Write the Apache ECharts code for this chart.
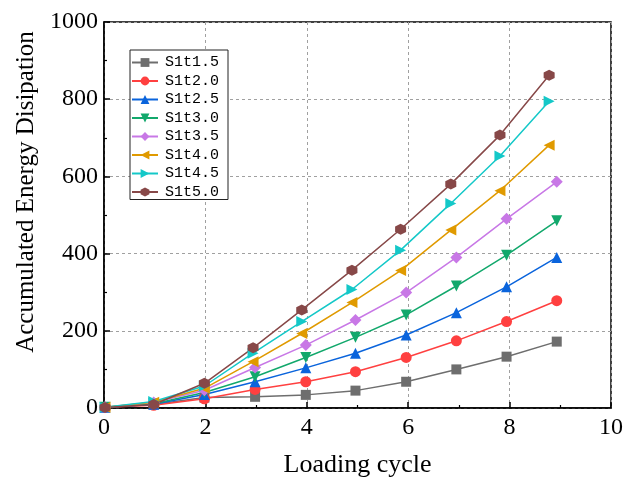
<!DOCTYPE html>
<html>
  <head>
      <meta charset="utf-8">
      <script src="https://cdn.jsdelivr.net/npm/echarts@6/dist/echarts.min.js"></script>
  </head>
  <body style="margin:0">
    <div id="main" style="width: 626px;height:484px;"></div>
    <script type="text/javascript">
        // x positions (loading cycle)
        var cycleLow = [0.02, 0.98, 1.98, 2.98, 3.98, 4.96, 5.96, 6.95, 7.94, 8.93];
        var cycleHigh = [0.02, 0.98, 1.98, 2.94, 3.90, 4.89, 5.85, 6.84, 7.81, 8.78];

        var names = ['S1t1.5', 'S1t2.0', 'S1t2.5', 'S1t3.0', 'S1t3.5', 'S1t4.0', 'S1t4.5', 'S1t5.0'];
        var s1t15 = [2, 9, 27, 29, 34, 45, 68, 100, 133, 172];
        var s1t20 = [2, 7, 24, 48, 68, 94, 131, 174, 224, 278];
        var s1t25 = [2, 10, 35, 68, 104, 142, 189, 247, 314, 390];
        var s1t30 = [2, 11, 40, 81, 131, 183, 241, 316, 396, 485];
        var s1t35 = [2, 14, 46, 105, 163, 228, 299, 390, 490, 586];
        var s1t40 = [2, 15, 51, 120, 193, 273, 356, 461, 563, 681];
        var s1t45 = [2, 17, 57, 142, 224, 307, 409, 530, 653, 795];
        var s1t50 = [1, 9, 64, 156, 254, 357, 463, 580, 707, 862];

        var values = [s1t15, s1t20, s1t25, s1t30, s1t35, s1t40, s1t45, s1t50];
        var xsets = [cycleLow, cycleLow, cycleLow, cycleLow, cycleLow, cycleHigh, cycleHigh, cycleHigh];

        var colors = ['#6e6e6e', '#ff4040', '#0a64dc', '#12a86c', '#c878e6', '#e09a00', '#14c8c8', '#874848'];
        var hexagon = 'path://M50,0 L93.3,25 L93.3,75 L50,100 L6.7,75 L6.7,25 Z';
        var symbols = ['rect', 'circle', 'triangle', 'triangle', 'diamond', 'triangle', 'triangle', hexagon];
        var rotates = [0, 0, 0, 180, 0, 90, -90, 0];
        var sizes = [10, 11, 11, 11, 12, 11, 11, 11];

        var serif = 'Liberation Serif';

        var myChart = echarts.init(document.getElementById('main'));

        var series = names.map(function (n, i) {
            return {
                name: n,
                type: 'line',
                data: values[i].map(function (v, j) { return [xsets[i][j], v]; }),
                symbol: symbols[i],
                symbolSize: sizes[i],
                symbolRotate: rotates[i],
                showAllSymbol: true,
                lineStyle: {color: colors[i], width: 1.5},
                itemStyle: {color: colors[i]},
                animation: false
            };
        });

        var option = {
            backgroundColor: '#fff',
            grid: {
                left: 104,
                right: 15,
                top: 22,
                bottom: 76,
                show: true,
                borderColor: '#000',
                borderWidth: 1.5
            },
            legend: {
                orient: 'vertical',
                left: 130,
                top: 50,
                itemWidth: 26,
                itemHeight: 11,
                itemGap: 3.5,
                padding: [5, 9, 0, 1],
                borderColor: '#222',
                borderWidth: 1,
                backgroundColor: '#fff',
                textStyle: {
                    fontFamily: 'Liberation Mono',
                    fontSize: 15,
                    color: '#000',
                    padding: [0, 0, 0, 2],
                    lineHeight: 12
                },
                data: names
            },
            xAxis: {
                type: 'value',
                min: 0,
                max: 10,
                interval: 2,
                name: 'Loading cycle',
                nameLocation: 'middle',
                nameGap: 44,
                nameTextStyle: {fontFamily: serif, fontSize: 26, color: '#000'},
                axisLine: {lineStyle: {color: '#000', width: 1.5}},
                axisTick: {inside: true, length: 6, lineStyle: {color: '#000', width: 1.5}},
                minorTick: {show: true, splitNumber: 2, length: 3, lineStyle: {color: '#000', width: 1.2}},
                axisLabel: {fontFamily: serif, fontSize: 24, color: '#000', margin: 8},
                splitLine: {show: true, lineStyle: {color: '#a0a0a0', type: [3, 3], width: 1}}
            },
            yAxis: {
                type: 'value',
                min: 0,
                max: 1000,
                interval: 200,
                name: 'Accumulated Energy Disipation',
                nameLocation: 'middle',
                nameGap: 60,
                nameTextStyle: {fontFamily: serif, fontSize: 25, color: '#000', padding: [0, 0, 0, 46]},
                axisLine: {lineStyle: {color: '#000', width: 1.5}},
                axisTick: {inside: true, length: 6, lineStyle: {color: '#000', width: 1.5}},
                minorTick: {show: true, splitNumber: 2, length: 3, lineStyle: {color: '#000', width: 1.2}},
                axisLabel: {
                    fontFamily: serif, fontSize: 24, color: '#000', margin: 6,
                    formatter: function (v) { return String(v); }
                },
                splitLine: {show: true, lineStyle: {color: '#a0a0a0', type: [3, 3], width: 1}}
            },
            series: series
        };
        myChart.setOption(option);
      </script>
  </body>
</html>
